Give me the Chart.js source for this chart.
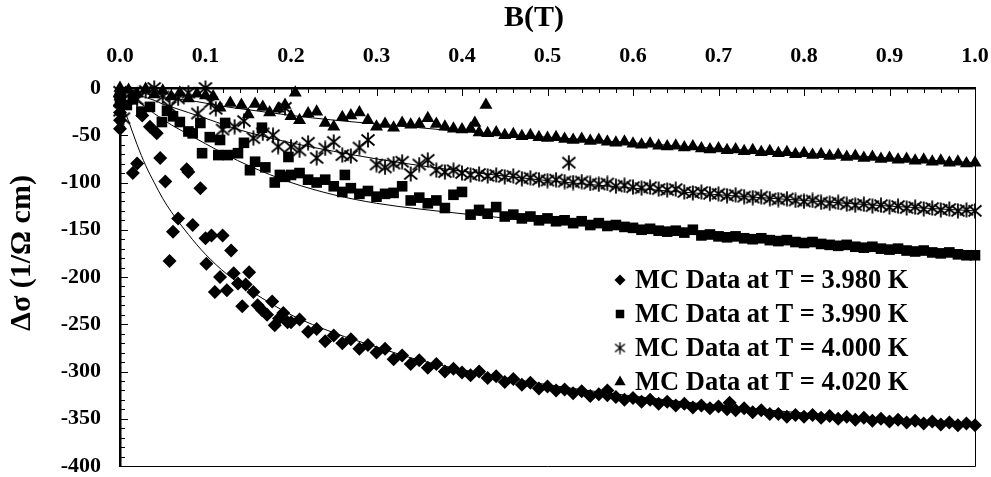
<!DOCTYPE html>
<html>
<head>
<meta charset="utf-8">
<script src="https://cdn.jsdelivr.net/npm/chart.js@4.4.1/dist/chart.umd.min.js"></script>
<style>
  body { margin: 0; background: #fff; }
  canvas { display: block; }
</style>
</head>
<body>
<canvas id="mcChart" width="991" height="477"></canvas>
<script>
  const seriesLabels = [
    "MC Data at T = 3.980 K",
    "MC Data at T = 3.990 K",
    "MC Data at T = 4.000 K",
    "MC Data at T = 4.020 K",
  ];

  // regular field steps (T) for the dense part of every run
  const gridB = [
    0.20, 0.21, 0.22, 0.23, 0.24, 0.25, 0.26, 0.27, 0.28, 0.29,
    0.30, 0.31, 0.32, 0.33, 0.34, 0.35, 0.36, 0.37, 0.38, 0.39,
    0.40, 0.41, 0.42, 0.43, 0.44, 0.45, 0.46, 0.47, 0.48, 0.49,
    0.50, 0.51, 0.52, 0.53, 0.54, 0.55, 0.56, 0.57, 0.58, 0.59,
    0.60, 0.61, 0.62, 0.63, 0.64, 0.65, 0.66, 0.67, 0.68, 0.69,
    0.70, 0.71, 0.72, 0.73, 0.74, 0.75, 0.76, 0.77, 0.78, 0.79,
    0.80, 0.81, 0.82, 0.83, 0.84, 0.85, 0.86, 0.87, 0.88, 0.89,
    0.90, 0.91, 0.92, 0.93, 0.94, 0.95, 0.96, 0.97, 0.98, 0.99,
    1.00,
  ];

  // T = 3.980 K
  const sig398Grid = [
    -248, -245, -258, -255, -268, -262, -270, -266, -276, -272,
    -280, -276, -287, -283, -292, -288, -296, -292, -300, -297,
    -301, -304, -300, -307, -305, -311, -308, -314, -312, -318,
    -316, -320, -319, -323, -321, -326, -324, -325, -327, -330,
    -328, -332, -330, -334, -332, -336, -334, -338, -336, -339,
    -337, -340, -341, -339, -343, -341, -345, -345, -348, -346,
    -348, -346, -349, -347, -350, -348, -351, -349, -352, -350,
    -353, -351, -354, -352, -355, -353, -356, -354, -357, -355,
    -357,
  ];
  const b398Extra = [0, 0, 0, 0, 0.015, 0.02, 0.026, 0.035, 0.043, 0.047, 0.053, 0.058, 0.062, 0.068, 0.078, 0.08, 0.085, 0.094, 0.1, 0.101, 0.107, 0.111, 0.117, 0.12, 0.125, 0.13, 0.133, 0.138, 0.143, 0.147, 0.151, 0.156, 0.161, 0.166, 0.172, 0.178, 0.181, 0.186, 0.191, 0.196, 0.57, 0.713];
  const sig398Extra = [-18, -26, -34, -43, -90, -80, -29, -41, -48, -74, -99, -183, -152, -138, -86, -89, -145, -106, -159, -186, -156, -216, -200, -156, -214, -172, -196, -207, -231, -208, -195, -216, -230, -235, -240, -226, -251, -244, -238, -248, -320, -333];

  // T = 3.990 K
  const sig399Grid = [
    -92, -90, -97, -100, -97, -104, -110, -106, -112, -109,
    -115, -112, -111, -104, -119, -116, -122, -119, -127, -113,
    -110, -134, -129, -133, -126, -136, -134, -138, -136, -140,
    -138, -141, -140, -143, -141, -145, -143, -146, -145, -147,
    -148, -150, -149, -151, -152, -151, -153, -150, -156, -155,
    -157, -158, -157, -159, -160, -159, -161, -162, -161, -163,
    -164, -163, -165, -166, -167, -166, -168, -169, -168, -170,
    -171, -170, -172, -173, -172, -174, -175, -174, -176, -177,
    -177,
  ];
  const b399Extra = [0, 0, 0.008, 0.015, 0.025, 0.035, 0.049, 0.055, 0.062, 0.07, 0.08, 0.085, 0.094, 0.096, 0.105, 0.115, 0.117, 0.123, 0.126, 0.138, 0.145, 0.152, 0.158, 0.166, 0.17, 0.181, 0.187, 0.193, 0.197, 0.263];
  const sig399Extra = [-8, -16, -18, -12, -25, -20, -36, -24, -30, -36, -46, -48, -37, -69, -52, -71, -55, -37, -71, -69, -58, -87, -78, -42, -84, -100, -92, -94, -73, -92];

  // T = 4.000 K
  const sig400Grid = [
    -62, -66, -58, -74, -64, -57, -71, -72, -63, -55,
    -81, -84, -80, -78, -91, -81, -76, -87, -89, -87,
    -90, -92, -91, -93, -92, -94, -93, -96, -95, -97,
    -98, -97, -99, -100, -99, -101, -102, -101, -104, -103,
    -105, -106, -105, -107, -108, -107, -110, -111, -110, -112,
    -112, -114, -113, -115, -116, -115, -117, -118, -117, -119,
    -120, -119, -121, -122, -121, -123, -124, -123, -125, -124,
    -126, -125, -127, -126, -128, -127, -129, -128, -130, -129,
    -130,
  ];
  const b400Extra = [0, 0, 0, 0.004, 0.012, 0.02, 0.03, 0.04, 0.05, 0.058, 0.068, 0.08, 0.091, 0.1, 0.106, 0.112, 0.12, 0.134, 0.145, 0.156, 0.167, 0.179, 0.185, 0.193, 0.525];
  const sig400Extra = [-4, -14, -24, -32, -6, -12, -3, 0, -9, -20, -11, -5, -27, 0, -15, -22, -44, -41, -35, -53, -48, -50, -62, -21, -79];

  // T = 4.020 K
  const sig402Grid = [
    -30, -34, -27, -25, -37, -41, -31, -29, -26, -34,
    -41, -38, -42, -37, -39, -38, -32, -38, -41, -43,
    -44, -43, -47, -48, -47, -50, -49, -51, -50, -52,
    -53, -52, -54, -55, -54, -56, -55, -57, -58, -57,
    -59, -60, -59, -61, -62, -61, -63, -62, -64, -65,
    -64, -66, -65, -67, -66, -68, -67, -69, -68, -70,
    -69, -71, -70, -72, -71, -73, -72, -74, -73, -75,
    -74, -76, -75, -77, -76, -78, -77, -79, -78, -80,
    -79,
  ];
  const b402Extra = [0, 0, 0, 0.01, 0.02, 0.03, 0.04, 0.05, 0.06, 0.07, 0.08, 0.09, 0.1, 0.109, 0.117, 0.129, 0.142, 0.15, 0.158, 0.167, 0.175, 0.185, 0.193, 0.205, 0.415, 0.428];
  const sig402Extra = [0, -4, -9, -2, -6, -1, -7, -3, -9, -5, -11, -6, -8, -9, -21, -16, -18, -28, -17, -20, -26, -22, -18, -5, -37, -18];

  // fitted curves
  const fitB = [0, 0.01, 0.02, 0.03, 0.04, 0.05, 0.06, 0.08, 0.10, 0.125, 0.15, 0.20, 0.25, 0.30, 0.35, 0.40, 0.50, 0.60, 0.70, 0.80, 0.90, 1.00];
  const fit398 = [-12, -35, -60, -82, -100, -117, -131, -155, -176, -197, -213, -240, -259, -274, -288, -298, -314, -326, -336, -344, -350, -356];
  const fit399 = [-2, -9, -14, -20, -27, -33, -39, -49, -59, -71, -82, -100, -113, -122, -128, -133, -142, -150, -157, -164, -170, -176];
  const fit400 = [0, -4, -7, -10, -13, -17, -20, -26, -32, -40, -47, -58, -67, -75, -82, -88, -98, -106, -113, -119, -125, -130];
  const fit402 = [0, -2, -4, -6, -8, -9, -11, -13, -16, -20, -23, -29, -34, -38, -42, -46, -52, -58, -64, -69, -74, -79];

  const toPoints = (bs, ss) => bs.map((b, i) => ({ x: b, y: ss[i] }));
  const runPoints = (bExtra, sExtra, sGrid) =>
    toPoints(bExtra, sExtra).concat(toPoints(gridB, sGrid));

  // six-armed asterisk marker like the original
  function makeAsterisk(size, lw) {
    const c = document.createElement("canvas");
    c.width = size;
    c.height = size;
    const g = c.getContext("2d");
    g.strokeStyle = "#000";
    g.lineWidth = lw;
    g.beginPath();
    g.moveTo(size / 2, 0.5);
    g.lineTo(size / 2, size - 0.5);
    g.moveTo(1.5, 2.5);
    g.lineTo(size - 1.5, size - 2.5);
    g.moveTo(size - 1.5, 2.5);
    g.lineTo(1.5, size - 2.5);
    g.stroke();
    return c;
  }
  const asterisk = makeAsterisk(16, 1.8);
  const asteriskKey = makeAsterisk(13, 1.4);

  const markerStyles = [
    { pointStyle: "rectRot", radius: 7, key: 5.5 },
    { pointStyle: "rect", radius: 7.5, key: 6 },
    { pointStyle: asterisk, radius: 8, key: 6, keyStyle: asteriskKey },
    { pointStyle: "triangle", radius: 7.5, key: 6.5 },
  ];

  const serif = "'Liberation Serif', 'Times New Roman', serif";

  function scatterSet(label, data, style) {
    return {
      label: label,
      data: data,
      showLine: false,
      pointStyle: style.pointStyle,
      pointRadius: style.radius,
      pointBackgroundColor: "#000",
      pointBorderColor: "#000",
      pointBorderWidth: 0,
      clip: false,
    };
  }
  function fitSet(ys) {
    return {
      label: "fit",
      data: toPoints(fitB, ys),
      showLine: true,
      borderColor: "#000",
      borderWidth: 1,
      pointRadius: 0,
      cubicInterpolationMode: "monotone",
      fill: false,
    };
  }

  // no extra room for overhanging tick labels: the frame is fixed
  function fixBox(size) {
    return (s) => {
      if (s.isHorizontal()) s.height = size;
      else s.width = size;
      s.paddingLeft = 0;
      s.paddingRight = 0;
      s.paddingTop = 0;
      s.paddingBottom = 0;
    };
  }

  // inward tick marks, thin right/bottom frame, legend and axis titles
  const frameDecor = {
    id: "frameDecor",
    afterDraw(chart) {
      const { ctx, chartArea: a } = chart;
      const xs = chart.scales.x;
      const ys = chart.scales.y;
      ctx.save();
      ctx.strokeStyle = "#000";
      ctx.lineWidth = 1;
      ctx.beginPath();
      ctx.moveTo(a.right + 0.5, a.top);
      ctx.lineTo(a.right + 0.5, a.bottom + 0.5);
      ctx.lineTo(a.left, a.bottom + 0.5);
      for (let i = 1; i < 50; i++) {
        const px = Math.round(xs.getPixelForValue(i * 0.02)) + 0.5;
        const len = i % 5 === 0 ? 8 : 5;
        ctx.moveTo(px, a.top);
        ctx.lineTo(px, a.top + len);
      }
      for (let i = 1; i < 40; i++) {
        const py = Math.round(ys.getPixelForValue(-i * 10)) + 0.5;
        const len = i % 5 === 0 ? 8 : 5;
        ctx.moveTo(a.left, py);
        ctx.lineTo(a.left + len, py);
      }
      ctx.stroke();

      // legend
      ctx.fillStyle = "#000";
      ctx.font = "bold 26.5px " + serif;
      ctx.textAlign = "left";
      ctx.textBaseline = "middle";
      const rowY = [280, 314, 348, 382];
      seriesLabels.forEach((label, i) => {
        const st = markerStyles[i];
        Chart.helpers.drawPoint(ctx, {
          pointStyle: st.keyStyle || st.pointStyle,
          radius: st.key,
          rotation: 0,
          borderWidth: 0,
        }, 620, rowY[i]);
        ctx.fillText(label, 635, rowY[i] + 1);
      });

      // axis titles
      ctx.font = "bold 30px " + serif;
      ctx.textAlign = "center";
      ctx.fillText("B(T)", 534, 18);
      ctx.translate(22, 253);
      ctx.rotate(-Math.PI / 2);
      ctx.fillText("\u0394\u03c3 (1/\u03a9 cm)", 0, 0);
      ctx.restore();
    },
  };

  const tickFont = { family: serif, weight: "bold", size: 22 };

  new Chart(document.getElementById("mcChart"), {
    type: "scatter",
    data: {
      datasets: [
        fitSet(fit398),
        fitSet(fit399),
        fitSet(fit400),
        fitSet(fit402),
        scatterSet(seriesLabels[0], runPoints(b398Extra, sig398Extra, sig398Grid), markerStyles[0]),
        scatterSet(seriesLabels[1], runPoints(b399Extra, sig399Extra, sig399Grid), markerStyles[1]),
        scatterSet(seriesLabels[2], runPoints(b400Extra, sig400Extra, sig400Grid), markerStyles[2]),
        scatterSet(seriesLabels[3], runPoints(b402Extra, sig402Extra, sig402Grid), markerStyles[3]),
      ],
    },
    options: {
      responsive: false,
      animation: false,
      layout: {
        autoPadding: false,
        padding: { left: 0, right: 16, top: 0, bottom: 11 },
      },
      plugins: {
        legend: { display: false },
        tooltip: { enabled: false },
      },
      scales: {
        x: {
          type: "linear",
          position: "top",
          min: 0,
          max: 1,
          ticks: {
            stepSize: 0.1,
            padding: 18,
            color: "#000",
            font: tickFont,
            callback: (v) => v.toFixed(1),
          },
          grid: { display: false, drawTicks: false },
          border: { display: true, color: "#000", width: 2.5 },
          afterFit: fixBox(88),
        },
        y: {
          type: "linear",
          position: "left",
          min: -400,
          max: 0,
          ticks: {
            stepSize: 50,
            padding: 19,
            color: "#000",
            font: tickFont,
          },
          grid: { display: false, drawTicks: false },
          border: { display: true, color: "#000", width: 2.5 },
          afterFit: fixBox(120),
        },
      },
    },
    plugins: [frameDecor],
  });
</script>
</body>
</html>
